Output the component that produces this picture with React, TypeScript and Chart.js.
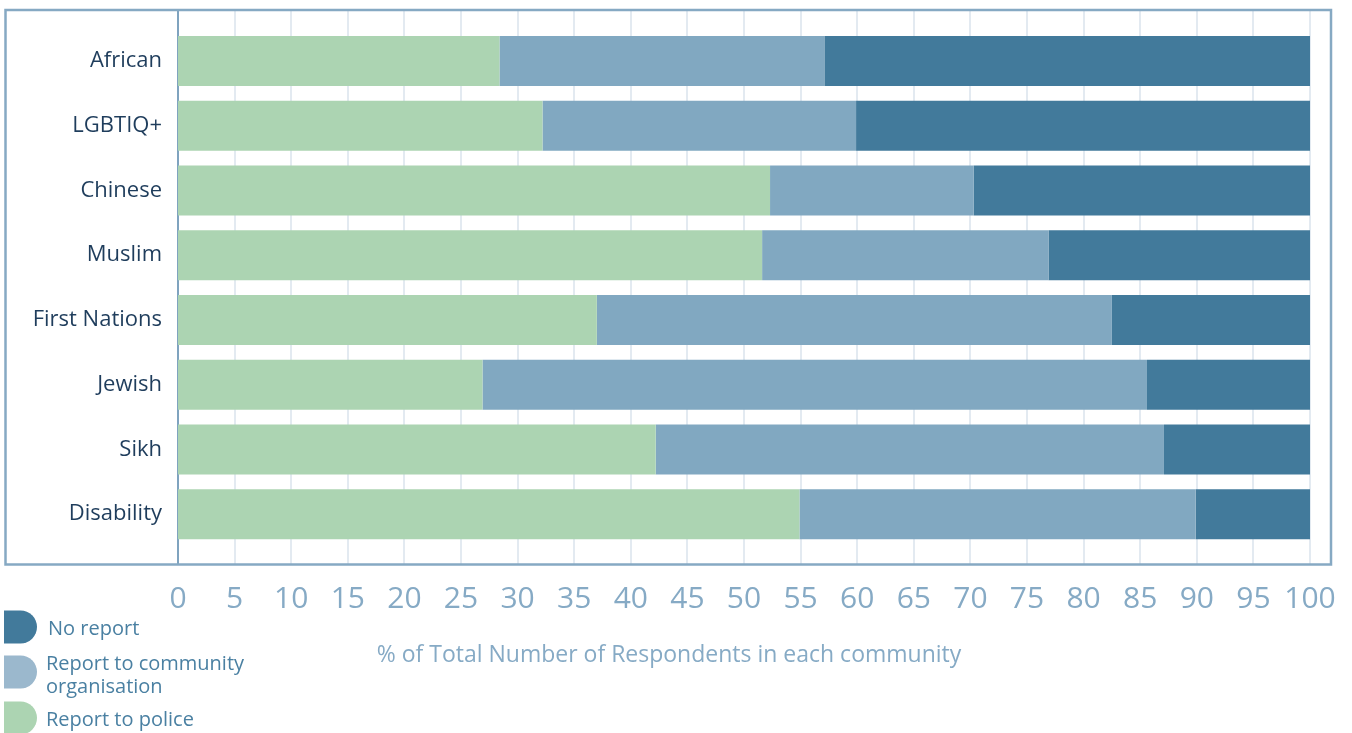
import React, { useEffect, useRef } from "react";
import { Chart, registerables } from "chart.js";

Chart.register(...registerables);

const categories = ["African", "LGBTIQ+", "Chinese", "Muslim", "First Nations", "Jewish", "Sikh", "Disability"];
const reportToPolice = [28.4, 32.2, 52.3, 51.6, 37.0, 26.9, 42.2, 54.9];
const reportToCommunity = [28.7, 27.7, 18.0, 25.3, 45.5, 58.7, 44.9, 35.0];
const noReport = [42.9, 40.1, 29.7, 23.1, 17.5, 14.4, 12.9, 10.1];
const xTicks = [0, 5, 10, 15, 20, 25, 30, 35, 40, 45, 50, 55, 60, 65, 70, 75, 80, 85, 90, 95, 100];

const legendItems = [
  { lines: ["No report"], color: "#427a9b" },
  { lines: ["Report to community", "organisation"], color: "#9bb8cd" },
  { lines: ["Report to police"], color: "#acd4b2" },
];
const axisTitle = "% of Total Number of Respondents in each community";

const FONT = "'Open Sans', sans-serif";

const framePlugin = {
  id: "frame",
  beforeDatasetsDraw(chart: any) {
    const ctx = chart.ctx;
    const x = chart.scales.x;
    const top = 10;
    const bottom = 564;
    ctx.save();
    ctx.strokeStyle = "#e3eaf1";
    ctx.lineWidth = 2;
    xTicks.forEach((t) => {
      if (t === 0) return;
      const px = Math.round(x.getPixelForValue(t));
      ctx.beginPath();
      ctx.moveTo(px, top);
      ctx.lineTo(px, bottom);
      ctx.stroke();
    });
    ctx.strokeStyle = "#7fa3bf";
    ctx.lineWidth = 2;
    const x0 = Math.round(x.getPixelForValue(0));
    ctx.beginPath();
    ctx.moveTo(x0, top);
    ctx.lineTo(x0, bottom);
    ctx.stroke();
    ctx.strokeStyle = "#86a9c3";
    ctx.lineWidth = 2.5;
    ctx.strokeRect(5.5, 10, 1325.5, 554.5);
    ctx.restore();
  },
  afterDraw(chart: any) {
    const ctx = chart.ctx;
    ctx.save();
    ctx.fillStyle = "#86aac5";
    ctx.font = `23px ${FONT}`;
    ctx.textAlign = "center";
    ctx.textBaseline = "middle";
    ctx.fillText(axisTitle, 669, 655);
    const centers = [627, 672, 718];
    legendItems.forEach((item, i) => {
      const cy = centers[i];
      const h = 33;
      const r = h / 2;
      const left = 4;
      const right = 37;
      ctx.fillStyle = item.color;
      ctx.beginPath();
      ctx.moveTo(left, cy - r);
      ctx.lineTo(right - r, cy - r);
      ctx.arc(right - r, cy, r, -Math.PI / 2, Math.PI / 2);
      ctx.lineTo(left, cy + r);
      ctx.closePath();
      ctx.fill();
      ctx.fillStyle = "#4a80a2";
      ctx.font = `20px ${FONT}`;
      ctx.textAlign = "left";
      ctx.textBaseline = "middle";
      if (item.lines.length === 1) {
        ctx.fillText(item.lines[0], i === 0 ? 48 : 46, cy + 2);
      } else {
        ctx.fillText(item.lines[0], 46, cy - 8);
        ctx.fillText(item.lines[1], 46, cy + 15);
      }
    });
    ctx.restore();
  },
};

export default function App() {
  const ref = useRef<HTMLCanvasElement>(null);
  useEffect(() => {
    document.body.style.margin = "0";
    const chart = new Chart(ref.current!, {
      type: "bar",
      data: {
        labels: categories,
        datasets: [
          { label: "Report to police", data: reportToPolice, backgroundColor: "#acd4b2" },
          { label: "Report to community organisation", data: reportToCommunity, backgroundColor: "#81a8c1" },
          { label: "No report", data: noReport, backgroundColor: "#427a9b" },
        ],
      },
      options: {
        indexAxis: "y",
        responsive: false,
        animation: false,
        maintainAspectRatio: false,
        layout: { padding: { left: 0, right: 42, top: 28.6, bottom: 0 } },
        datasets: { bar: { categoryPercentage: 1, barPercentage: 0.775 } },
        plugins: { legend: { display: false }, tooltip: { enabled: false } },
        scales: {
          x: {
            type: "linear",
            stacked: true,
            min: 0,
            max: 100,
            border: { display: false },
            grid: { display: false, drawTicks: false },
            afterBuildTicks: (scale: any) => {
              scale.ticks = xTicks.map((v) => ({ value: v }));
            },
            afterFit: (scale: any) => {
              scale.height = 186.4;
              scale.paddingLeft = 0;
              scale.paddingRight = 0;
            },
            ticks: {
              color: "#86aac5",
              font: { family: FONT, size: 30 },
              padding: 35,
              maxRotation: 0,
              autoSkip: false,
            },
          },
          y: {
            stacked: true,
            border: { display: false },
            grid: { display: false, drawTicks: false },
            afterFit: (scale: any) => {
              scale.width = 178;
              scale.paddingTop = 0;
              scale.paddingBottom = 0;
            },
            ticks: {
              color: "#1f3d5c",
              font: { family: FONT, size: 22 },
              padding: 16,
            },
          },
        },
      },
      plugins: [framePlugin],
    });
    return () => chart.destroy();
  }, []);
  return (
    <div style={{ width: 1352, height: 733 }}>
      <canvas ref={ref} width={1352} height={733} style={{ display: "block" }} />
    </div>
  );
}
